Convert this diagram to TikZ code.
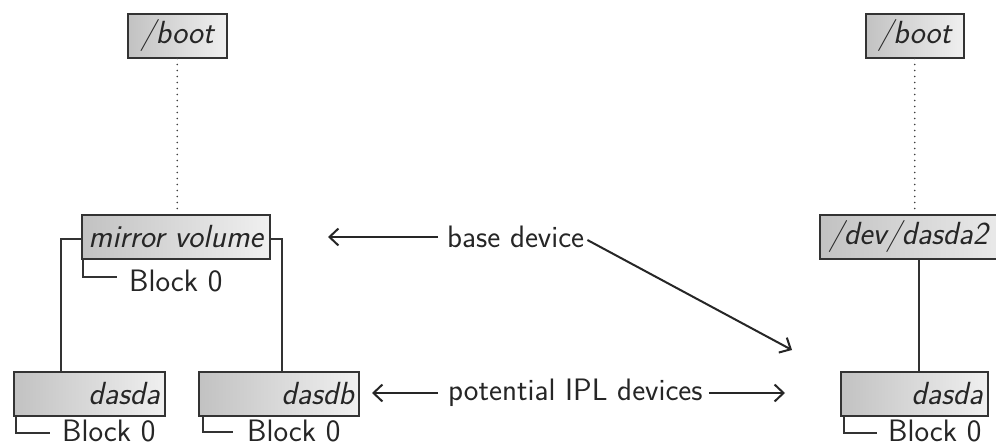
\documentclass[tikz,border=0pt]{standalone}
\usepackage{fontspec}
\usetikzlibrary{arrows.meta}
\newcommand{\figfont}{\sffamily\fontsize{31}{35}\selectfont}
\newcommand{\boxfont}{\sffamily\itshape\fontsize{32}{36}\selectfont}
\begin{document}
\begin{tikzpicture}[x=1pt,y=-1pt,
  box/.style={draw=black!80, line width=1.5pt, left color=black!24, right color=black!6,
    inner sep=0pt, minimum height=44pt, anchor=north west, font=\boxfont, text=black!85},
  lbl/.style={font=\figfont, text=black!85, inner sep=0pt},
  conn/.style={line width=1.5pt, draw=black!80},
  dots/.style={line width=1.8pt, dash pattern=on 0pt off 6pt, line cap=round, draw=black!75},
  arr/.style={line width=2pt, draw=black!85, -{Straight Barb[length=9pt,width=17pt,line width=2pt]}}]
\useasboundingbox (0,0) rectangle (996,447);

% boxes
\node[box, minimum width=99pt] (bootL) at (127,13) {/boot};
\node[box, minimum width=188pt] (mirror) at (81,214) {mirror volume};
\node[box, text width=141pt, inner xsep=5pt, align=right] (dasdaL) at (13,371) {dasda};
\node[box, text width=150pt, inner xsep=5pt, align=right] (dasdb) at (198,371) {dasdb};
\node[box, minimum width=98pt] (bootR) at (865,13) {/boot};
\node[box, text width=190pt, inner xsep=9pt, align=left] (dev) at (819,214) {/dev/dasda2};
\node[box, text width=137pt, inner xsep=5pt, align=right] (dasdaR) at (840,371) {dasda};

% block labels
\node[lbl, anchor=west] (bm) at (129,281) {Block 0};
\node[lbl, anchor=west] (ba) at (62,431) {Block 0};
\node[lbl, anchor=west] (bb) at (247,431) {Block 0};
\node[lbl, anchor=west] (br) at (888,431) {Block 0};

\draw[conn] ([xshift=2pt]mirror.south west) |- ([xshift=-12pt,yshift=4pt]bm.west);
\draw[conn] ([xshift=3pt]dasdaL.south west) |- ([xshift=-12pt,yshift=-2pt]ba.west);
\draw[conn] ([xshift=5pt]dasdb.south west) |- ([xshift=-14pt,yshift=-1pt]bb.west);
\draw[conn] ([xshift=4pt]dasdaR.south west) |- ([xshift=-11pt,yshift=-2pt]br.west);

% tree connectors
\draw[dots] (bootL.south) -- (bootL.south |- mirror.north);
\draw[dots] (bootR.south) -- (bootR.south |- dev.north);
\draw[conn] ([yshift=-2pt]mirror.west) -| ([xshift=48pt]dasdaL.north west);
\draw[conn] ([yshift=-2pt]mirror.east) -| ([xshift=84pt]dasdb.north west);
\draw[conn] ([xshift=79pt]dasdaR.north west) -- ([xshift=79pt]dasdaR.north west |- dev.south);

% annotations
\node[lbl, anchor=west] (base) at (447,237) {base device};
\node[lbl, anchor=west] (ipl) at (448,393) {potential IPL devices};
\coordinate (baseTip) at (328,237);
\coordinate (diagTip) at (792,350);
\coordinate (iplL) at (372,393);
\coordinate (iplR) at (785,393);

\draw[arr] ([xshift=-9pt]base.west) -- (baseTip);
\draw[arr] ([xshift=3pt,yshift=-3pt]base.east) -- (diagTip);
\draw[arr] ([xshift=-10pt]ipl.west) -- (iplL);
\draw[arr] ([xshift=6pt]ipl.east) -- (iplR);
\end{tikzpicture}
\end{document}
